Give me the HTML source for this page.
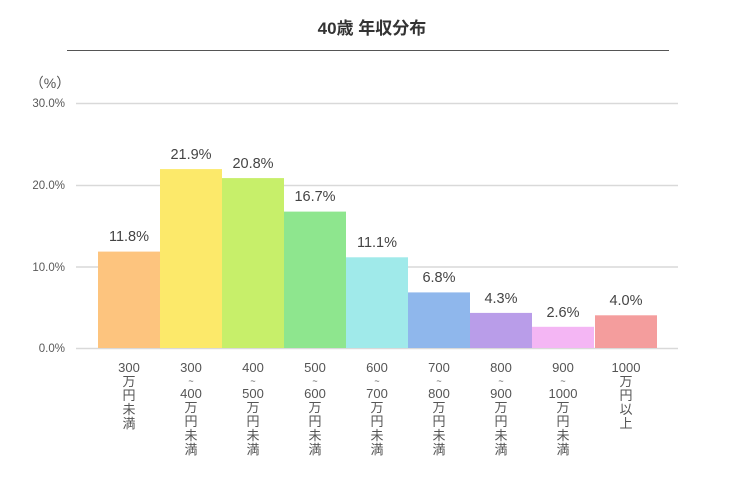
<!DOCTYPE html><html><head><meta charset="utf-8"><style>
body{margin:0;background:#fff;font-family:"Liberation Sans","Noto Sans CJK JP",sans-serif;}
svg text{font-family:"Liberation Sans","Noto Sans CJK JP",sans-serif;}
</style></head><body>
<svg width="745" height="484" viewBox="0 0 745 484">
<text x="372" y="34" text-anchor="middle" font-size="17" font-weight="bold" fill="#333">40歳 年収分布</text>
<line x1="67" y1="50.5" x2="669" y2="50.5" stroke="#555" stroke-width="1"/>
<text x="50" y="88" text-anchor="middle" font-size="14" fill="#555">（%）</text>
<g stroke="#d9d9d9" stroke-width="1.5">
<line x1="76" y1="103.5" x2="678" y2="103.5"/><line x1="76" y1="185.5" x2="678" y2="185.5"/><line x1="76" y1="267" x2="678" y2="267"/><line x1="76" y1="348.5" x2="678" y2="348.5"/>
</g>
<g font-size="11.5" fill="#595959" text-anchor="end">
<text x="65" y="107">30.0%</text><text x="65" y="189">20.0%</text><text x="65" y="271">10.0%</text><text x="65" y="352">0.0%</text>
</g>
<g>
<rect x="98" y="251.6" width="62" height="96.4" fill="#fdc47e"/>
<rect x="160" y="169.1" width="62" height="178.9" fill="#fce96a"/>
<rect x="222" y="178.1" width="62" height="169.9" fill="#c7ef6a"/>
<rect x="284" y="211.6" width="62" height="136.4" fill="#8ee68e"/>
<rect x="346" y="257.3" width="62" height="90.7" fill="#a0eaea"/>
<rect x="408" y="292.4" width="62" height="55.6" fill="#8fb7ec"/>
<rect x="470" y="312.9" width="62" height="35.1" fill="#b99de9"/>
<rect x="532" y="326.8" width="62" height="21.2" fill="#f4b6f4"/>
<rect x="595" y="315.3" width="62" height="32.7" fill="#f49d9d"/>
</g>
<g font-size="14.5" fill="#444" text-anchor="middle">
<text x="129" y="241">11.8%</text><text x="191" y="159">21.9%</text><text x="253" y="168">20.8%</text><text x="315" y="201">16.7%</text><text x="377" y="247">11.1%</text><text x="439" y="282">6.8%</text><text x="501" y="303">4.3%</text><text x="563" y="317">2.6%</text><text x="626" y="305">4.0%</text>
</g>
<g font-size="13" fill="#555" text-anchor="middle">
<text x="129" y="372">300</text><text x="129" y="386">万</text><text x="129" y="400">円</text><text x="129" y="414">未</text><text x="129" y="428">満</text>
<text x="191" y="372">300</text><text x="191" y="384" font-size="9">~</text><text x="191" y="398">400</text><text x="191" y="412">万</text><text x="191" y="426">円</text><text x="191" y="440">未</text><text x="191" y="454">満</text>
<text x="253" y="372">400</text><text x="253" y="384" font-size="9">~</text><text x="253" y="398">500</text><text x="253" y="412">万</text><text x="253" y="426">円</text><text x="253" y="440">未</text><text x="253" y="454">満</text>
<text x="315" y="372">500</text><text x="315" y="384" font-size="9">~</text><text x="315" y="398">600</text><text x="315" y="412">万</text><text x="315" y="426">円</text><text x="315" y="440">未</text><text x="315" y="454">満</text>
<text x="377" y="372">600</text><text x="377" y="384" font-size="9">~</text><text x="377" y="398">700</text><text x="377" y="412">万</text><text x="377" y="426">円</text><text x="377" y="440">未</text><text x="377" y="454">満</text>
<text x="439" y="372">700</text><text x="439" y="384" font-size="9">~</text><text x="439" y="398">800</text><text x="439" y="412">万</text><text x="439" y="426">円</text><text x="439" y="440">未</text><text x="439" y="454">満</text>
<text x="501" y="372">800</text><text x="501" y="384" font-size="9">~</text><text x="501" y="398">900</text><text x="501" y="412">万</text><text x="501" y="426">円</text><text x="501" y="440">未</text><text x="501" y="454">満</text>
<text x="563" y="372">900</text><text x="563" y="384" font-size="9">~</text><text x="563" y="398">1000</text><text x="563" y="412">万</text><text x="563" y="426">円</text><text x="563" y="440">未</text><text x="563" y="454">満</text>
<text x="626" y="372">1000</text><text x="626" y="386">万</text><text x="626" y="400">円</text><text x="626" y="414">以</text><text x="626" y="428">上</text>
</g>
</svg></body></html>
